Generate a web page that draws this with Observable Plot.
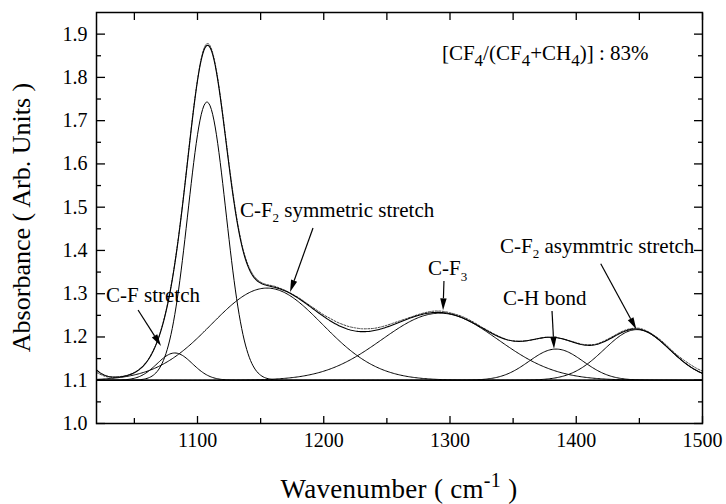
<!DOCTYPE html>
<html><head><meta charset="utf-8">
<script src="https://cdn.jsdelivr.net/npm/d3@7"></script>
<script src="https://cdn.jsdelivr.net/npm/@observablehq/plot@0.6"></script>
<style>
body{margin:0;background:#fff}
#chart{width:726px;height:504px}
</style>
</head><body><div id="chart"></div>
<script>
// ---- values ----
const baseline = 1.1;
// fitted peak components (centre cm-1, height above baseline, gaussian sigma)
const peakCenters = [995, 1082, 1107.5, 1155, 1292, 1384, 1448];
const peakHeights = [0.108, 0.063, 0.643, 0.213, 0.155, 0.072, 0.117];
const peakSigmas  = [14, 14, 15, 44, 46, 21.5, 26];
const peakShown   = [false, true, true, true, true, true, true];
// measured spectrum (dotted), sampled every 5 cm-1 from 1020 to 1500
const measuredStart = 1020, measuredStep = 5;
const measured = [
  1.118, 1.111, 1.107, 1.107, 1.109, 1.112, 1.118, 1.128, 1.144, 1.169,
  1.206, 1.260, 1.334, 1.433, 1.553, 1.682, 1.795, 1.866, 1.873, 1.816,
  1.715, 1.600, 1.495, 1.416, 1.367, 1.340, 1.327, 1.321, 1.318, 1.313,
  1.307, 1.299, 1.291, 1.281, 1.271, 1.261, 1.251, 1.243, 1.235, 1.229,
  1.224, 1.221, 1.219, 1.219, 1.220, 1.223, 1.227, 1.232, 1.237, 1.242,
  1.247, 1.252, 1.256, 1.259, 1.260, 1.259, 1.256, 1.252, 1.247, 1.240,
  1.232, 1.223, 1.215, 1.207, 1.200, 1.194, 1.191, 1.190, 1.191, 1.193,
  1.196, 1.199, 1.199, 1.198, 1.195, 1.191, 1.187, 1.183, 1.182, 1.183,
  1.188, 1.195, 1.203, 1.211, 1.217, 1.220, 1.220, 1.215, 1.207, 1.197,
  1.185, 1.171, 1.158, 1.147, 1.137, 1.128, 1.121
];
const xMajor = [1100, 1200, 1300, 1400, 1500];
const xMinor = [1050, 1150, 1250, 1350, 1450];
const yMajor = [1.0, 1.1, 1.2, 1.3, 1.4, 1.5, 1.6, 1.7, 1.8, 1.9];
const yMinor = [1.05, 1.15, 1.25, 1.35, 1.45, 1.55, 1.65, 1.75, 1.85];
const xTitle = ["Wavenumber ( cm", "-1", " )"];
const yTitle = "Absorbance ( Arb. Units )";

// ---- derived tables ----
const grid = d3.range(1020, 1500.001, 1);
const g = (i, x) => peakHeights[i] * Math.exp(-((x - peakCenters[i]) ** 2) / (2 * peakSigmas[i] ** 2));
const comps = [];
peakCenters.forEach((c, i) => { if (peakShown[i]) grid.forEach(x => comps.push({x, y: baseline + g(i, x), k: i})); });
const fit = grid.map(x => ({x, y: baseline + peakCenters.reduce((s, c, i) => s + g(i, x), 0)}));
const meas = measured.map((y, i) => ({x: measuredStart + i * measuredStep, y}));

const font = "Liberation Serif";
const plot = Plot.plot({
  width: 726, height: 504,
  marginLeft: 96, marginRight: 24, marginTop: 12, marginBottom: 81,
  x: {domain: [1020, 1500]},
  y: {domain: [1.0, 1.95]},
  style: {fontFamily: font, fontSize: "20px", color: "black", background: "white"},
  marks: [
    Plot.ruleY([baseline], {stroke: "black", strokeWidth: 1}),
    Plot.line(comps, {x: "x", y: "y", z: "k", stroke: "black", strokeWidth: 1}),
    Plot.line(meas, {x: "x", y: "y", stroke: "#444", strokeWidth: 1, strokeDasharray: "2,1.5", curve: "natural"}),
    Plot.line(fit, {x: "x", y: "y", stroke: "black", strokeWidth: 1.1}),
    Plot.frame({stroke: "black", strokeWidth: 1.5}),
    Plot.axisX({ticks: xMajor, tickSize: -7, text: null, strokeWidth: 1.3, label: null}),
    Plot.axisX({ticks: xMinor, tickSize: -5, text: null, strokeWidth: 1.3, label: null}),
    Plot.axisX({anchor: "top", ticks: xMajor.concat(xMinor), tickSize: -7, text: null, strokeWidth: 1.3, label: null}),
    Plot.axisX({ticks: xMajor, tickSize: 0, tickPadding: 9, tickFormat: d3.format("d"), label: null, fontSize: 20}),
    Plot.axisY({ticks: yMajor, tickSize: -9, text: null, strokeWidth: 1.3, label: null}),
    Plot.axisY({ticks: yMinor, tickSize: -5, text: null, strokeWidth: 1.3, label: null}),
    Plot.axisY({anchor: "right", ticks: yMajor, tickSize: -9, text: null, strokeWidth: 1.3, label: null}),
    Plot.axisY({anchor: "right", ticks: yMinor, tickSize: -5, text: null, strokeWidth: 1.3, label: null}),
    Plot.axisY({ticks: yMajor, tickSize: 0, tickPadding: 9, tickFormat: d3.format(".1f"), label: null, fontSize: 20})
  ]
});
document.getElementById("chart").append(plot);

// ---- annotations (placed through the plot's own scales) ----
const X = plot.scale("x").apply, Y = plot.scale("y").apply;
const svg = d3.select(plot);
const ann = svg.append("g").attr("font-family", font).attr("fill", "black").attr("text-anchor", "start");

function label(parts, x, y, size) {
  const t = ann.append("text").attr("x", X(x)).attr("y", Y(y)).attr("font-size", size).attr("text-anchor", "start");
  let shift = 0;
  parts.forEach(p => {
    const [s, d, fs] = typeof p === "string" ? [p, 0, size] : p;
    t.append("tspan").attr("dy", d - shift).attr("font-size", fs).text(s);
    shift = d;
  });
}
function arrow(x1, y1, x2, y2) {
  const a = [X(x1), Y(y1)], b = [X(x2), Y(y2)];
  const dx = b[0] - a[0], dy = b[1] - a[1], L = Math.hypot(dx, dy), ux = dx / L, uy = dy / L;
  const hl = 12, hw = 3.2;
  const base = [b[0] - ux * hl, b[1] - uy * hl];
  ann.append("line").attr("x1", a[0]).attr("y1", a[1]).attr("x2", base[0]).attr("y2", base[1])
    .attr("stroke", "black").attr("stroke-width", 1.2);
  ann.append("path").attr("d", `M${b[0]},${b[1]}L${base[0] - uy * hw},${base[1] + ux * hw}L${base[0] + uy * hw},${base[1] - ux * hw}Z`)
    .attr("fill", "black");
}

label(["[CF", ["4", 6, 17], "/(CF", ["4", 6, 17], "+CH", ["4", 6, 17], ")] : 83%"], 1294, 1.839, 21);
label(["C-F stretch"], 1028, 1.2797, 21);
arrow(1053.3, 1.2612, 1071.5, 1.178);
label(["C-F", ["2", 5, 13], " symmetric stretch"], 1134, 1.4769, 21);
arrow(1191.9, 1.4507, 1173.7, 1.3028);
label(["C-F", ["3", 6, 13]], 1283, 1.3414, 21);
arrow(1295.6, 1.3282, 1294.9, 1.2605);
label(["C-H bond"], 1342.4, 1.2734, 21);
arrow(1381.2, 1.2589, 1382.8, 1.1717);
label(["C-F", ["2", 5, 13], " asymmtric stretch"], 1340, 1.393, 21);
arrow(1419.8, 1.3682, 1448, 1.2166);

// axis titles
const xt = svg.append("text").attr("font-family", font).attr("font-size", 27).attr("text-anchor", "middle")
  .attr("letter-spacing", 0.3).attr("x", (X(1020) + X(1500)) / 2).attr("y", 497.5);
xt.append("tspan").text(xTitle[0]);
xt.append("tspan").attr("dy", -11).attr("font-size", 20).text(xTitle[1]);
xt.append("tspan").attr("dy", 11).text(xTitle[2]);
svg.append("text").attr("font-family", font).attr("font-size", 26).attr("text-anchor", "middle")
  .attr("transform", `translate(30,${(Y(1.0) + Y(1.95)) / 2}) rotate(-90)`).text(yTitle);
</script>
</body></html>
